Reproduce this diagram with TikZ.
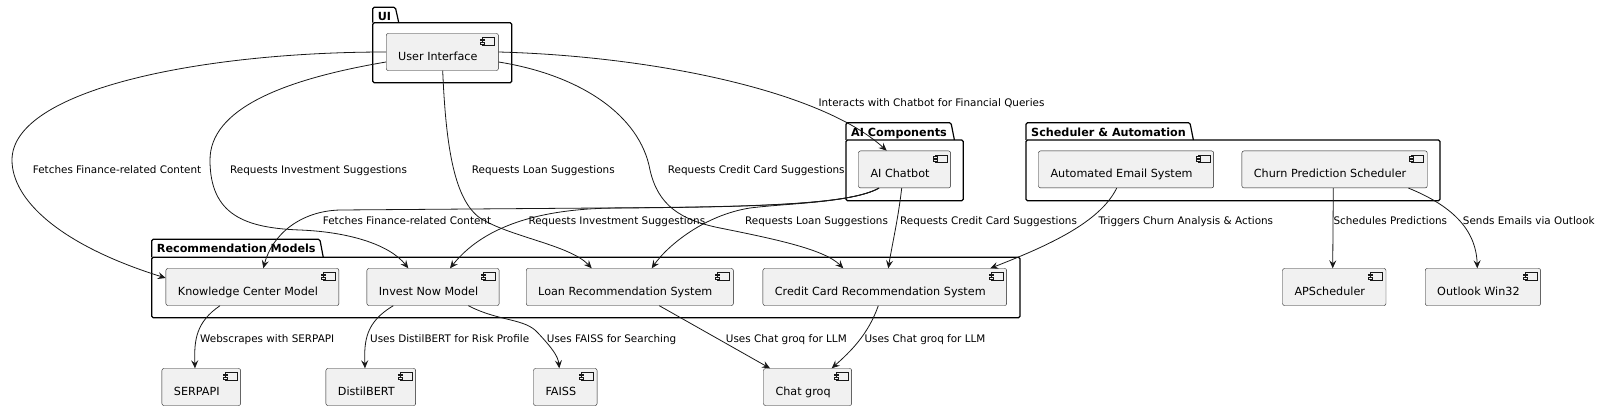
\documentclass[tikz,border=0pt]{standalone}
\usepackage{fontspec}
\setmainfont{DejaVu Sans}
\usepackage{xcolor}
\usetikzlibrary{arrows.meta,calc}

\definecolor{compfill}{HTML}{F1F1F1}
\definecolor{compline}{HTML}{181818}

\tikzset{
  comp/.style={draw=compline, fill=compfill, line width=0.4pt, rounded corners=2pt,
    inner xsep=12pt, inner ysep=0pt, minimum height=37pt,
    text height=19.1pt, text depth=2.4pt, font=\fontsize{11.2}{13}\selectfont},
  icon/.style={draw=compline, fill=compfill, line width=0.4pt},
  pkgtitle/.style={inner sep=0pt, font=\fontsize{11.2}{13}\selectfont\bfseries},
  pkgline/.style={draw=black, line width=1.2pt, rounded corners=1.5pt},
  lbl/.style={inner sep=0pt, anchor=base west, font=\fontsize{10.4}{12}\selectfont},
  arr/.style={draw=compline, line width=0.8pt, -{Stealth[length=8pt,width=7pt,inset=3pt]}}
}

% component box with the small icon at its top right
\newcommand\comp[4]{%
  \node[comp, anchor=north west] (#1) at (#2,#3) {#4\hspace*{9pt}};
  \draw[icon] ([xshift=-16pt,yshift=-4pt]#1.north east) rectangle ([xshift=-4pt,yshift=-11.7pt]#1.north east);
  \draw[icon] ([xshift=-18pt,yshift=-5.6pt]#1.north east) rectangle ([xshift=-14pt,yshift=-7.2pt]#1.north east);
  \draw[icon] ([xshift=-18pt,yshift=-8.8pt]#1.north east) rectangle ([xshift=-14pt,yshift=-10.4pt]#1.north east);
}

% package: name, left, tab top, body top, right, bottom, title
\newcommand\pkg[7]{%
  \node[pkgtitle, anchor=base west] (#1) at (#2+5,#3+13.4) {#7};
  \coordinate (#1-a) at (#2,#4);
  \coordinate (#1-b) at (#2,#3);
  \coordinate (#1-c) at ([xshift=4pt]#1.east);
  \draw[pkgline] (#1-a) -- (#1-b) -- (#1-c |- #1-b) -- ([xshift=3.4pt]#1-c |- #1-a);
  \draw[pkgline] (#1-a) rectangle (#5,#6);
}

\begin{document}
\begin{tikzpicture}[x=1pt,y=-1pt]
  \useasboundingbox (0,0) rectangle (1600,410);

  % packages
  \pkg{pui}{372.7}{7.3}{22.7}{511.7}{82.7}{UI}
  \pkg{pai}{846}{122.7}{140}{963.3}{200.7}{AI Components}
  \pkg{psched}{1026}{122.7}{140}{1440}{200.7}{Scheduler \& Automation}
  \pkg{prec}{151.7}{239.3}{257.3}{1020}{317.7}{Recommendation Models}

  % components
  \comp{ui}{386}{33.3}{User Interface}
  \comp{bot}{858.3}{150.7}{AI Chatbot}
  \comp{mail}{1038.3}{150.7}{Automated Email System}
  \comp{churn}{1241.7}{150.7}{Churn Prediction Scheduler}
  \comp{kcm}{165.7}{268.3}{Knowledge Center Model}
  \comp{inv}{366.7}{268.3}{Invest Now Model}
  \comp{loan}{526}{268.3}{Loan Recommendation System}
  \comp{cc}{762.7}{268.3}{Credit Card Recommendation System}
  \comp{aps}{1282.3}{268.3}{APScheduler}
  \comp{outl}{1425}{268.3}{Outlook Win32}
  \comp{serp}{161.7}{368.3}{SERPAPI}
  \comp{bert}{325.7}{368.3}{DistilBERT}
  \comp{faiss}{533.3}{368.3}{FAISS}
  \comp{groq}{763.3}{368.3}{Chat groq}

  % user interface links
  \draw[arr] (ui.west) .. controls (200,52) and (12,90) .. (12,160)
    .. controls (12,200) and (60,245) .. ([yshift=9pt]kcm.west);
  \draw[arr] ([yshift=-10pt]ui.west) .. controls (280,80) and (210,110) .. (210,160)
    .. controls (210,215) and (245,228) .. (300,230)
    .. controls (350,232) and (390,245) .. ([xshift=41.6pt]inv.north west);
  \draw[arr] ([xshift=56.7pt]ui.south west) .. controls (446,150) and (455,200) .. (480,218)
    .. controls (510,237) and (570,245) .. ([xshift=65.7pt]loan.north west);
  \draw[arr] ([yshift=-10pt]ui.east) .. controls (580,75) and (640,115) .. (650,170)
    .. controls (658,205) and (680,220) .. (720,228)
    .. controls (780,240) and (825,250) .. ([xshift=80.6pt]cc.north west);
  \draw[arr] (ui.east) .. controls (650,56) and (820,90) .. ([xshift=28.4pt]bot.north west);

  % chatbot links
  \draw[arr] ([xshift=20.7pt]bot.south west) .. controls (850,205) and (750,207) .. (600,208)
    -- (340,210) .. controls (300,211) and (272,235) .. ([xshift=97.6pt]kcm.north west);
  \draw[arr] ([xshift=20.7pt]bot.south west) .. controls (850,205) and (750,207) .. (620,208)
    .. controls (560,208) and (490,218) .. ([xshift=83.3pt]inv.north west);
  \draw[arr] ([xshift=20.7pt]bot.south west) .. controls (850,203) and (790,203) .. (750,208)
    .. controls (705,215) and (668,245) .. ([xshift=125.7pt]loan.north west);
  \draw[arr] ([xshift=43.4pt]bot.south west) .. controls (898,220) and (892,245) .. ([xshift=125.6pt]cc.north west);

  % scheduler links
  \draw[arr] ([xshift=78.4pt]mail.south west) .. controls (1100,222) and (1050,245) .. ([xshift=-16.6pt]cc.north east);
  \draw[arr] ([xshift=91.6pt]churn.south west) -- ([xshift=50.4pt]aps.north west);
  \draw[arr] ([xshift=-19pt]churn.south east) .. controls (1450,205) and (1476,228) .. ([xshift=52.3pt]outl.north west);

  % model links
  \draw[arr] ([xshift=54.3pt]kcm.south west) .. controls (196,322) and (194,340) .. ([xshift=33.3pt]serp.north west);
  \draw[arr] ([xshift=26.6pt]inv.south west) .. controls (366,322) and (364,340) .. ([xshift=39.3pt]bert.north west);
  \draw[arr] ([xshift=101.6pt]inv.south west) .. controls (500,322) and (525,318) .. (538,333)
    .. controls (552,348) and (558,356) .. ([xshift=26pt]faiss.north west);
  \draw[arr] ([xshift=133.3pt]loan.south west) -- ([xshift=6.7pt]groq.north west);
  \draw[arr] ([xshift=115.6pt]cc.south west) .. controls (868,335) and (850,352) .. ([xshift=68.4pt]groq.north west);

  % labels
  \node[lbl] (lkcm) at (32.7,173.3) {Fetches Finance-related Content};
  \node[lbl] (linv) at (230,173.3) {Requests Investment Suggestions};
  \node[lbl] (lloan) at (471.7,173.3) {Requests Loan Suggestions};
  \node[lbl] (lcc) at (667.7,173.3) {Requests Credit Card Suggestions};
  \node[lbl] (lbot) at (818.3,106.3) {Interacts with Chatbot for Financial Queries};
  \node[lbl] (lbkcm) at (322.7,224) {Fetches Finance-related Content};
  \node[lbl] (lbinv) at (528.3,224) {Requests Investment Suggestions};
  \node[lbl] (lbloan) at (745,224) {Requests Loan Suggestions};
  \node[lbl] (lbcc) at (900,224) {Requests Credit Card Suggestions};
  \node[lbl] (lmail) at (1098.3,224.7) {Triggers Churn Analysis \& Actions};
  \node[lbl] (laps) at (1333.3,224.7) {Schedules Predictions};
  \node[lbl] (loutl) at (1462.7,224.7) {Sends Emails via Outlook};
  \node[lbl] (lserp) at (200,342.3) {Webscrapes with SERPAPI};
  \node[lbl] (lbert) at (370,342.3) {Uses DistilBERT for Risk Profile};
  \node[lbl] (lfaiss) at (546.7,342) {Uses FAISS for Searching};
  \node[lbl] (lgroqa) at (725.7,342) {Uses Chat groq for LLM};
  \node[lbl] (lgroqb) at (864.3,342) {Uses Chat groq for LLM};
\end{tikzpicture}
\end{document}
